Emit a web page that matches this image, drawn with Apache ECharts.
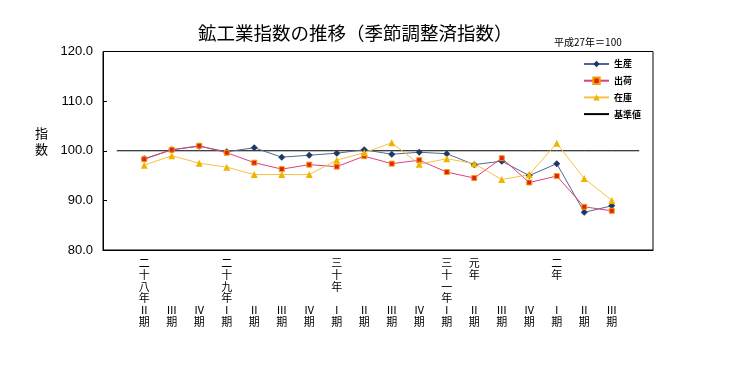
<!DOCTYPE html>
<html>
<head>
<meta charset="utf-8">
<script src="https://cdn.jsdelivr.net/npm/echarts@6/dist/echarts.min.js"></script>
<style>
html,body{margin:0;padding:0;background:#fff;}
#c{width:746px;height:365px;}
</style>
</head>
<body>
<div id="c"></div>
<script>
// Era part of the x labels (top block) and quarter part (bottom block)
var eraLabels = ['', '二十八年', '', '', '二十九年', '', '', '', '三十年', '', '', '', '三十一年', '元年', '', '', '二年', '', '', ''];
var quarterLabels = ['', 'Ⅱ', 'Ⅲ', 'Ⅳ', 'Ⅰ', 'Ⅱ', 'Ⅲ', 'Ⅳ', 'Ⅰ', 'Ⅱ', 'Ⅲ', 'Ⅳ', 'Ⅰ', 'Ⅱ', 'Ⅲ', 'Ⅳ', 'Ⅰ', 'Ⅱ', 'Ⅲ', ''];
var seriesNames = ['生産', '出荷', '在庫', '基準値'];
var production = [null, 98.4, 100.2, 100.9, 99.8, 100.6, 98.7, 99.1, 99.5, 100.2, 99.3, 99.7, 99.4, 97.2, 97.9, 95.0, 97.4, 87.6, 88.9, null];
var shipments  = [null, 98.3, 100.2, 101.0, 99.6, 97.6, 96.3, 97.2, 96.8, 98.9, 97.4, 98.1, 95.7, 94.5, 98.5, 93.6, 94.9, 88.7, 87.9, null];
var inventory  = [null, 97.1, 99.0, 97.5, 96.7, 95.2, 95.2, 95.2, 98.1, 99.6, 101.6, 97.3, 98.4, 97.4, 94.2, 95.2, 101.5, 94.4, 90.0, null];
var baseValue  = [100, 100, 100, 100, 100, 100, 100, 100, 100, 100, 100, 100, 100, 100, 100, 100, 100, 100, 100, 100];
var yTicks = [80, 90, 100, 110, 120];

var categories = eraLabels.map(function (e, i) { return String(i); });

function buildLabel(i) {
  var era = eraLabels[i].split('');
  var q = quarterLabels[i];
  if (!q) return '';
  var lines = [];
  for (var k = 0; k < 4; k++) lines.push(era[k] || '　');
  lines.push(q);
  lines.push('期');
  return lines.join('\n');
}

var chart = echarts.init(document.getElementById('c'));
var jp = '"Noto Sans CJK JP", sans-serif';
chart.setOption({
  animation: false,
  backgroundColor: '#fff',
  title: {
    text: '鉱工業指数の推移（季節調整済指数）',
    left: 193, top: 19,
    textStyle: { fontSize: 18.5, fontWeight: 'normal', fontFamily: jp, color: '#000' }
  },
  graphic: [
    { type: 'text', left: 554, top: 37, style: { text: '平成27年＝100', font: '10px "Noto Sans CJK JP"', fill: '#000' } },
    { type: 'text', left: 35, top: 125, style: { text: '指\n数', font: '13px "Noto Sans CJK JP"', lineHeight: 16, fill: '#000' } }
  ],
  legend: {
    orient: 'vertical',
    left: 578, top: 54,
    itemWidth: 25, itemHeight: 8, itemGap: 6.7,
    data: [
      { name: seriesNames[0] },
      { name: seriesNames[1] },
      { name: seriesNames[2] },
      { name: seriesNames[3], itemStyle: { opacity: 0 } }
    ],
    textStyle: { fontSize: 9, fontWeight: 'bold', fontFamily: jp, color: '#000', lineHeight: 10 }
  },
  grid: {
    left: 103, top: 51.5, right: 93, bottom: 115,
    show: true, borderColor: '#000', borderWidth: 1, backgroundColor: 'transparent'
  },
  xAxis: {
    type: 'category',
    data: categories,
    boundaryGap: true,
    axisLine: { lineStyle: { color: '#000', width: 1 } },
    axisTick: { inside: true, length: 4, interval: 0, lineStyle: { color: '#000' } },
    axisLabel: {
      interval: 0, margin: 7,
      formatter: function (v, idx) { return buildLabel(idx); },
      fontSize: 11, lineHeight: 11.8, fontFamily: jp, color: '#000',
      verticalAlign: 'top'
    },
    splitLine: { show: false }
  },
  yAxis: {
    type: 'value',
    min: yTicks[0], max: yTicks[yTicks.length - 1], interval: 10,
    axisLine: { show: true, lineStyle: { color: '#000', width: 1 } },
    axisTick: { show: true, inside: true, length: 4, lineStyle: { color: '#000' } },
    axisLabel: {
      margin: 10,
      formatter: function (v) { return v.toFixed(1); },
      fontSize: 13, fontFamily: '"Liberation Sans", Arial, sans-serif', color: '#000'
    },
    splitLine: { show: false }
  },
  series: [
    {
      name: seriesNames[0], type: 'line', data: production,
      symbol: 'diamond', symbolSize: 7,
      lineStyle: { color: '#4F6A92', width: 1 },
      itemStyle: { color: '#1F3864' }
    },
    {
      name: seriesNames[1], type: 'line', data: shipments,
      symbol: 'rect', symbolSize: 5,
      lineStyle: { color: '#E0407A', width: 1 },
      itemStyle: { color: '#E02020', borderColor: '#F5A000', borderWidth: 1 }
    },
    {
      name: seriesNames[2], type: 'line', data: inventory,
      symbol: 'triangle', symbolSize: 7,
      lineStyle: { color: '#F5C342', width: 1 },
      itemStyle: { color: '#F0B400' }
    },
    {
      name: seriesNames[3], type: 'line', data: baseValue,
      symbol: 'none', z: 1,
      lineStyle: { color: '#000', width: 1 },
      itemStyle: { color: '#000' }
    }
  ]
});
</script>
</body>
</html>
